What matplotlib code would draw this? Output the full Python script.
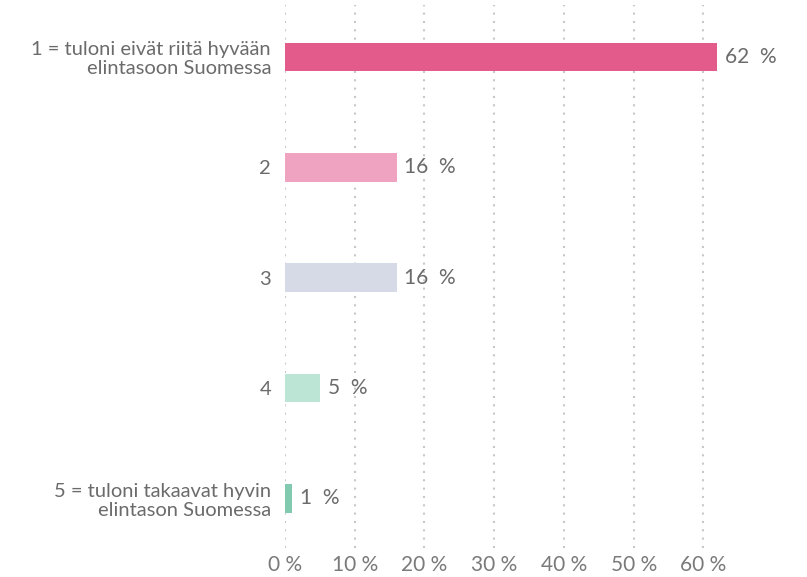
import matplotlib.pyplot as plt
import numpy as np

categories = ["1 = tuloni eivät riitä hyvään\nelintasoon Suomessa", "2", "3", "4",
              "5 = tuloni takaavat hyvin\nelintason Suomessa"]
values = [62, 16, 16, 5, 1]
colors = ["#e25b8b", "#f0a3c0", "#d6dae7", "#bce5d5", "#82caaf"]
ticks = [0, 10, 20, 30, 40, 50, 60]

plt.rcParams['font.family'] = ['Lato', 'DejaVu Sans']
txt = "#6b6b6b"

fig = plt.figure(figsize=(8.07, 5.77), dpi=100)
ax = fig.add_axes([285 / 807, 29 / 577, (801 - 285) / 807, 543 / 577])

y = np.arange(len(categories))
ax.barh(y, values, height=0.26, color=colors, zorder=3)
for yi, v in zip(y, values):
    ax.text(v + 1.1, yi, f"{v}  %", va="center", ha="left", fontsize=15, color=txt)

ax.set_xlim(0, 74)
ax.set_ylim(4.45, -0.47)
ax.set_yticks(y)
ax.set_yticklabels(categories, fontsize=14.5, color=txt, linespacing=1.15)
ax.set_xticks(ticks)
ax.set_xticklabels([f"{t} %" for t in ticks], fontsize=15, color="#7a7a7a")
ax.tick_params(length=0, pad=10)
ax.tick_params(axis="x", pad=5)
for s in ax.spines.values():
    s.set_visible(False)
ax.grid(axis="x", color="#c8c8c8", linestyle=(0, (1, 3)), linewidth=1.5, zorder=0)

fig.savefig("out.png", dpi=100)
